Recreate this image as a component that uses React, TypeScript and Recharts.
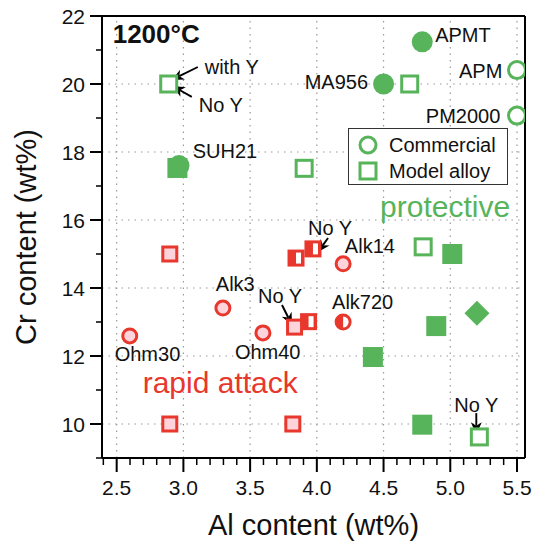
import React from 'react';
import { ScatterChart, Scatter, XAxis, YAxis, ReferenceLine, Legend, Label } from 'recharts';

const GREEN = '#58b45b';
const RED = '#e8372c';
const PINK = '#fdd3dc';
const INK = '#111';
const FONT = '"Liberation Sans", Arial, Helvetica, sans-serif';

// axes
const xDomain = [2.39, 5.56];
const yDomain = [9, 22];
const xTicks = [2.4, 2.5, 2.6, 2.7, 2.8, 2.9, 3.0, 3.1, 3.2, 3.3, 3.4, 3.5, 3.6, 3.7, 3.8, 3.9, 4.0, 4.1, 4.2, 4.3, 4.4, 4.5, 4.6, 4.7, 4.8, 4.9, 5.0, 5.1, 5.2, 5.3, 5.4, 5.5];
const xMajorTicks = [2.5, 3.0, 3.5, 4.0, 4.5, 5.0, 5.5];
const xTickLabels = ['2.5', '3.0', '3.5', '4.0', '4.5', '5.0', '5.5'];
const yTicks = [9, 10, 11, 12, 13, 14, 15, 16, 17, 18, 19, 20, 21, 22];
const yMajorTicks = [10, 12, 14, 16, 18, 20, 22];
const yTickLabels = ['10', '12', '14', '16', '18', '20', '22'];
const xGrid = [2.5, 3.0, 3.5, 4.0, 4.5, 5.0, 5.5];
const yGrid = [10, 12, 14, 16, 18, 20];

// protective (green) alloys
const commercialFilled = [{ x: 2.967, y: 17.6 }, { x: 4.5, y: 20.0 }, { x: 4.79, y: 21.24 }];
const commercialOpen = [{ x: 5.5, y: 20.41 }, { x: 5.5, y: 19.07 }];
const modelFilled = [{ x: 2.955, y: 17.53 }, { x: 5.015, y: 15.0 }, { x: 4.895, y: 12.88 }, { x: 4.42, y: 11.97 }, { x: 4.79, y: 9.98 }];
const modelOpen = [{ x: 2.89, y: 20.0 }, { x: 3.905, y: 17.52 }, { x: 4.696, y: 20.0 }, { x: 4.797, y: 15.21 }, { x: 5.218, y: 9.62 }];
const diamondPoints = [{ x: 5.2, y: 13.26 }];

// rapid attack (red) alloys
const attackCircles = [{ x: 2.598, y: 12.59 }, { x: 3.296, y: 13.41 }, { x: 3.596, y: 12.68 }, { x: 4.197, y: 14.71 }];
const attackHalfCircles = [{ x: 4.197, y: 13.0 }];
const attackSquares = [{ x: 2.898, y: 15.0 }, { x: 2.898, y: 10.0 }, { x: 3.82, y: 10.0 }, { x: 3.833, y: 12.85 }];
const attackHalfSquares = [{ x: 3.844, y: 14.88 }, { x: 3.971, y: 15.15 }, { x: 3.938, y: 13.01 }];

// annotations
const labelsStart = [
  { x: 3.16, y: 20.5, text: 'with Y' },
  { x: 3.115, y: 19.38, text: 'No Y' },
  { x: 3.07, y: 18.03, text: 'SUH21' },
  { x: 4.887, y: 21.44, text: 'APMT' },
  { x: 3.934, y: 15.76, text: 'No Y' },
  { x: 4.21, y: 15.24, text: 'Alk14' },
  { x: 3.243, y: 14.12, text: 'Alk3' },
  { x: 3.559, y: 13.76, text: 'No Y' },
  { x: 4.114, y: 13.59, text: 'Alk720' },
  { x: 2.485, y: 12.06, text: 'Ohm30' },
  { x: 3.386, y: 12.12, text: 'Ohm40' },
  { x: 5.03, y: 10.56, text: 'No Y' },
];
const labelsEnd = [
  { x: 4.384, y: 20.06, text: 'MA956' },
  { x: 5.39, y: 20.38, text: 'APM' },
  { x: 5.375, y: 19.06, text: 'PM2000' },
];
const arrows = [
  { from: { x: 3.108, y: 20.5 }, to: { x: 2.913, y: 20.12 } },
  { from: { x: 3.063, y: 19.62 }, to: { x: 2.92, y: 19.94 } },
  { from: { x: 4.084, y: 15.47 }, to: { x: 4.009, y: 15.06 } },
  { from: { x: 3.739, y: 13.5 }, to: { x: 3.814, y: 12.91 } },
  { from: { x: 5.195, y: 10.32 }, to: { x: 5.195, y: 9.7 } },
];
const titleLabel = [{ x: 2.47, y: 21.21, text: '1200°C' }];
const protectiveLabel = [{ x: 4.474, y: 16.09, text: 'protective' }];
const attackLabel = [{ x: 2.695, y: 10.91, text: 'rapid attack' }];
const legendItems = ['Commercial', 'Model alloy'];

const near = (a: number, b: number) => Math.abs(a - b) < 1e-6;

const XTick = (props: any) => {
  const { x, y, payload } = props;
  const idx = xMajorTicks.findIndex((t) => near(t, payload.value));
  const major = idx >= 0;
  return (
    <g>
      <line x1={x} x2={x} y1={y} y2={y + (major ? 14 : 7)} stroke="#000" strokeWidth={major ? 2 : 1.5} />
      {major && (
        <text x={x} y={y + 37} textAnchor="middle" fontSize={21} fontFamily={FONT} fill={INK}>
          {xTickLabels[idx]}
        </text>
      )}
    </g>
  );
};

const YTick = (props: any) => {
  const { x, y, payload } = props;
  const idx = yMajorTicks.findIndex((t) => near(t, payload.value));
  const major = idx >= 0;
  return (
    <g>
      <line x1={x} x2={x - (major ? 12 : 6)} y1={y} y2={y} stroke="#000" strokeWidth={major ? 2 : 1.5} />
      {major && (
        <text x={x - 17} y={y} dy="0.36em" textAnchor="end" fontSize={21} fontFamily={FONT} fill={INK}>
          {yTickLabels[idx]}
        </text>
      )}
    </g>
  );
};

const FilledCircleG = (p: any) => <circle cx={p.cx} cy={p.cy} r={10.5} fill={GREEN} />;
const OpenCircleG = (p: any) => <circle cx={p.cx} cy={p.cy} r={8.5} fill="#fff" stroke={GREEN} strokeWidth={3} />;
const FilledSquareG = (p: any) => <rect x={p.cx - 10} y={p.cy - 10} width={20} height={20} fill={GREEN} />;
const OpenSquareG = (p: any) => <rect x={p.cx - 8} y={p.cy - 8} width={16} height={16} fill="#fff" stroke={GREEN} strokeWidth={3} />;
const DiamondG = (p: any) => (
  <polygon
    points={`${p.cx},${p.cy - 12.5} ${p.cx + 12.5},${p.cy} ${p.cx},${p.cy + 12.5} ${p.cx - 12.5},${p.cy}`}
    fill={GREEN}
  />
);
const PinkCircle = (p: any) => <circle cx={p.cx} cy={p.cy} r={7} fill={PINK} stroke={RED} strokeWidth={3} />;
const HalfCircle = (p: any) => (
  <g>
    <circle cx={p.cx} cy={p.cy} r={7} fill="#fff" stroke={RED} strokeWidth={3} />
    <path d={`M ${p.cx} ${p.cy - 7} A 7 7 0 0 0 ${p.cx} ${p.cy + 7} Z`} fill={RED} />
  </g>
);
const PinkSquare = (p: any) => <rect x={p.cx - 7} y={p.cy - 7} width={14} height={14} fill={PINK} stroke={RED} strokeWidth={3} />;
const HalfSquare = (p: any) => (
  <g>
    <rect x={p.cx - 7} y={p.cy - 7} width={14} height={14} fill={RED} stroke={RED} strokeWidth={3} />
    <rect x={p.cx} y={p.cy - 5.5} width={5} height={11} fill="#fff" />
  </g>
);

const makeText = (anchor: 'start' | 'end', size: number, color: string, weight: string, baseline: string) => (p: any) => (
  <text
    x={p.cx}
    y={p.cy}
    textAnchor={anchor}
    dominantBaseline={baseline as any}
    fontSize={size}
    fontWeight={weight}
    fontFamily={FONT}
    fill={color}
  >
    {p.payload.text}
  </text>
);

const ArrowShape = (p: any) => {
  const { x1, y1, x2, y2 } = p;
  const ang = Math.atan2(y2 - y1, x2 - x1);
  const L = 12;
  const W = 5.5;
  const bx = x2 - L * Math.cos(ang);
  const by = y2 - L * Math.sin(ang);
  const nx = -Math.sin(ang);
  const ny = Math.cos(ang);
  const mx = x2 - 0.7 * L * Math.cos(ang);
  const my = y2 - 0.7 * L * Math.sin(ang);
  return (
    <g>
      <line x1={x1} y1={y1} x2={mx} y2={my} stroke="#000" strokeWidth={1.9} />
      <polygon
        points={`${x2},${y2} ${bx + W * nx},${by + W * ny} ${mx},${my} ${bx - W * nx},${by - W * ny}`}
        fill="#000"
      />
    </g>
  );
};

const LegendBox = () => (
  <div
    style={{
      width: 160,
      height: 57,
      border: '1px solid #333',
      background: '#fff',
      boxSizing: 'border-box',
      fontFamily: FONT,
      fontSize: 20,
      color: INK,
      position: 'relative',
    }}
  >
    {legendItems.map((name, i) => (
      <div
        key={name}
        style={{ position: 'absolute', left: 0, top: 3 + i * 26, height: 26, display: 'flex', alignItems: 'center', whiteSpace: 'nowrap' }}
      >
        <svg width={40} height={26} style={{ display: 'block' }}>
          {i === 0 ? (
            <circle cx={19} cy={13} r={8} fill="#fff" stroke={GREEN} strokeWidth={3} />
          ) : (
            <rect x={11} y={5} width={16} height={16} fill="#fff" stroke={GREEN} strokeWidth={3} />
          )}
        </svg>
        <span style={{ lineHeight: '26px' }}>{name}</span>
      </div>
    ))}
  </div>
);

export default function App() {
  return (
    <div style={{ position: 'absolute', left: 0, top: 0, background: '#fff' }}>
      <ScatterChart width={533} height={542} margin={{ top: 16, right: 8, bottom: 0, left: 0 }}>
        <XAxis
          type="number"
          dataKey="x"
          domain={xDomain}
          allowDataOverflow
          ticks={xTicks}
          interval={0}
          tickSize={0}
          tickMargin={0}
          tick={<XTick />}
          height={84}
          axisLine={{ stroke: '#000', strokeWidth: 2 }}
        >
          <Label
            content={(props: any) => {
              const vb = props.viewBox;
              return (
                <text x={vb.x + vb.width / 2} y={vb.y + 77} textAnchor="middle" fontSize={29} fontFamily={FONT} fill={INK}>
                  Al content (wt%)
                </text>
              );
            }}
          />
        </XAxis>
        <YAxis
          type="number"
          dataKey="y"
          domain={yDomain}
          allowDataOverflow
          ticks={yTicks}
          interval={0}
          tickSize={0}
          tickMargin={0}
          tick={<YTick />}
          width={102}
          axisLine={{ stroke: '#000', strokeWidth: 2 }}
        >
          <Label
            content={(props: any) => {
              const vb = props.viewBox;
              const cx = vb.x + 26;
              const cy = vb.y + vb.height / 2;
              return (
                <text
                  x={cx}
                  y={cy}
                  transform={`rotate(-90 ${cx} ${cy})`}
                  textAnchor="middle"
                  dominantBaseline="central"
                  fontSize={29}
                  fontFamily={FONT}
                  fill={INK}
                >
                  Cr content (wt%)
                </text>
              );
            }}
          />
        </YAxis>

        {xGrid.map((v) => (
          <ReferenceLine key={'gx' + v} x={v} stroke="#999" strokeWidth={1.2} strokeDasharray="1.5 5" />
        ))}
        {yGrid.map((v) => (
          <ReferenceLine key={'gy' + v} y={v} stroke="#999" strokeWidth={1.2} strokeDasharray="1.5 5" />
        ))}
        <ReferenceLine y={yDomain[1]} stroke="#000" strokeWidth={2} />
        <ReferenceLine x={xDomain[1]} stroke="#000" strokeWidth={2} />

        <Scatter data={commercialFilled} shape={FilledCircleG} isAnimationActive={false} legendType="none" />
        <Scatter data={commercialOpen} shape={OpenCircleG} isAnimationActive={false} legendType="none" />
        <Scatter data={modelFilled} shape={FilledSquareG} isAnimationActive={false} legendType="none" />
        <Scatter data={modelOpen} shape={OpenSquareG} isAnimationActive={false} legendType="none" />
        <Scatter data={diamondPoints} shape={DiamondG} isAnimationActive={false} legendType="none" />
        <Scatter data={attackCircles} shape={PinkCircle} isAnimationActive={false} legendType="none" />
        <Scatter data={attackHalfCircles} shape={HalfCircle} isAnimationActive={false} legendType="none" />
        <Scatter data={attackHalfSquares} shape={HalfSquare} isAnimationActive={false} legendType="none" />
        <Scatter data={attackSquares} shape={PinkSquare} isAnimationActive={false} legendType="none" />

        <Scatter data={labelsStart} shape={makeText('start', 20, INK, 'normal', 'central')} isAnimationActive={false} legendType="none" />
        <Scatter data={labelsEnd} shape={makeText('end', 20, INK, 'normal', 'central')} isAnimationActive={false} legendType="none" />
        <Scatter data={titleLabel} shape={makeText('start', 26, INK, 'bold', 'alphabetic')} isAnimationActive={false} legendType="none" />
        <Scatter data={protectiveLabel} shape={makeText('start', 30, GREEN, 'normal', 'alphabetic')} isAnimationActive={false} legendType="none" />
        <Scatter data={attackLabel} shape={makeText('start', 30, RED, 'normal', 'alphabetic')} isAnimationActive={false} legendType="none" />

        {arrows.map((a, i) => (
          <ReferenceLine key={'ar' + i} segment={[a.from, a.to]} ifOverflow="visible" shape={ArrowShape} />
        ))}

        <Legend
          layout="vertical"
          align="center"
          verticalAlign="middle"
          content={<LegendBox />}
          wrapperStyle={{ left: 348, top: 128, width: 160, height: 57 }}
        />
      </ScatterChart>
    </div>
  );
}
